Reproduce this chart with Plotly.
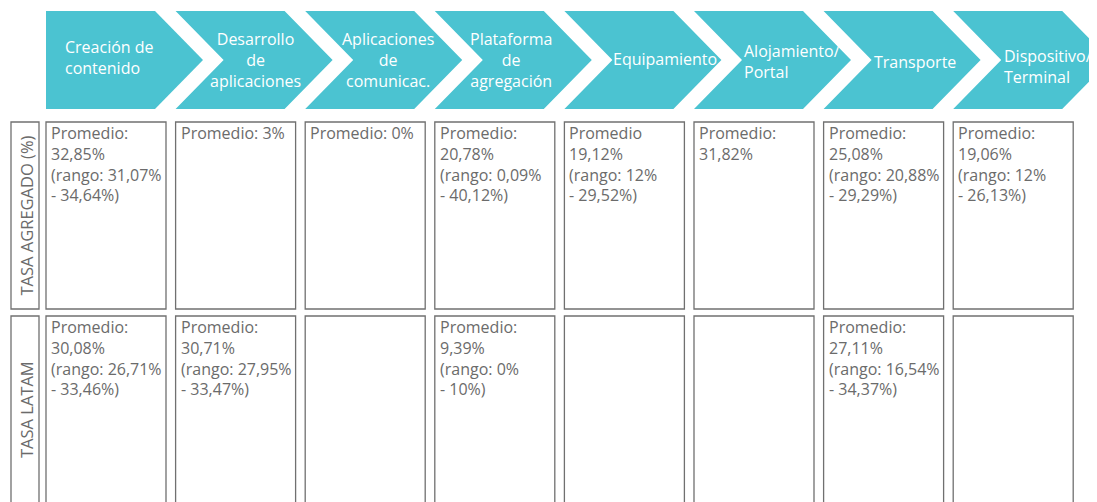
import plotly.graph_objects as go

# ---------------- data ----------------
stages = ["Creación de<br>contenido", "Desarrollo<br>de<br>aplicaciones",
          "Aplicaciones<br>de<br>comunicac.", "Plataforma<br>de<br>agregación",
          "Equipamiento", "Alojamiento/<br>Portal", "Transporte",
          "Dispositivo/<br>Terminal"]
row_labels = ["TASA AGREGADO (%)", "TASA LATAM"]

agg_prefix = ["Promedio:", "Promedio:", "Promedio:", "Promedio:",
              "Promedio", "Promedio:", "Promedio:", "Promedio:"]
agg_avg = [32.85, 3, 0, 20.78, 19.12, 31.82, 25.08, 19.06]
agg_low = [31.07, None, None, 0.09, 12, None, 20.88, 12]
agg_high = [34.64, None, None, 40.12, 29.52, None, 29.29, 26.13]

latam_avg = [30.08, 30.71, None, 9.39, None, None, 27.11, None]
latam_low = [26.71, 27.95, None, 0, None, None, 16.54, None]
latam_high = [33.46, 33.47, None, 10, None, None, 34.37, None]

# ---------------- style / layout ----------------
W, H = 1097, 502
PAGE_OFF = 8  # default page margin of the html body
TEAL = "#4BC3D1"
GRAY = "#6b6b6b"
BORDER = "#707070"
FONT = "Open Sans"

X0, STEP = 46, 129.6
BODY, TIP = 109, 48
CH_TOP, CH_BOT = 11, 109
BOX_W = 120
ROWS = [(122, 309), (316, 506)]
LBL_X = (11, 39)

# chevron label placement: (x, y, xanchor)
label_pos = [(63, 57, "left"), (255, 60, "center"), (388, 60, "center"),
             (511, 60, "center"), (665, 59, "center"), (742, 61, "left"),
             (915, 62, "center"), (1002, 66, "left")]


def pct(v):
    return f"{v:g}".replace(".", ",") + "%"


def cell_text(prefix, avg, low, high):
    if avg is None:
        return None
    if low is None:
        if float(avg).is_integer():
            return f"{prefix} {pct(avg)}"
        return f"{prefix}<br>{pct(avg)}"
    return f"{prefix}<br>{pct(avg)}<br>(rango: {pct(low)}<br>- {pct(high)})"


fig = go.Figure()
fig.add_trace(go.Scatter(x=[PAGE_OFF, W], y=[PAGE_OFF, H], mode="markers",
                         marker=dict(opacity=0), hoverinfo="skip",
                         showlegend=False))

shapes = []
annotations = []
mid = (CH_TOP + CH_BOT) / 2
for i, name in enumerate(stages):
    x0 = X0 + i * STEP
    if i == 0:
        path = (f"M {x0},{CH_TOP} L {x0+BODY},{CH_TOP} L {x0+BODY+TIP},{mid} "
                f"L {x0+BODY},{CH_BOT} L {x0},{CH_BOT} Z")
    else:
        path = (f"M {x0},{CH_TOP} L {x0+BODY},{CH_TOP} L {x0+BODY+TIP},{mid} "
                f"L {x0+BODY},{CH_BOT} L {x0},{CH_BOT} L {x0+TIP},{mid} Z")
    shapes.append(dict(type="path", path=path, xref="x", yref="y",
                       fillcolor=TEAL, line=dict(width=0), layer="below"))
    lx, ly, anc = label_pos[i]
    annotations.append(dict(x=lx, y=ly, xref="x", yref="y", text=name,
                            showarrow=False, xanchor=anc, yanchor="middle",
                            align=anc,
                            font=dict(family=FONT, size=16, color="white")))

    texts = [cell_text(agg_prefix[i], agg_avg[i], agg_low[i], agg_high[i]),
             cell_text("Promedio:", latam_avg[i], latam_low[i], latam_high[i])]
    for r, (y0, y1) in enumerate(ROWS):
        shapes.append(dict(type="rect", x0=x0, x1=x0 + BOX_W, y0=y0, y1=y1,
                           xref="x", yref="y",
                           line=dict(color=BORDER, width=1.3)))
        if texts[r]:
            annotations.append(dict(x=x0 + 3, y=y0 - 2, xref="x", yref="y",
                                    text=texts[r], showarrow=False,
                                    xanchor="left", yanchor="top", align="left",
                                    font=dict(family=FONT, size=16, color=GRAY)))

for r, (y0, y1) in enumerate(ROWS):
    shapes.append(dict(type="rect", x0=LBL_X[0], x1=LBL_X[1], y0=y0, y1=y1,
                       xref="x", yref="y", line=dict(color=BORDER, width=1.3)))
    yc = (y0 + min(y1, 504)) / 2
    annotations.append(dict(x=(LBL_X[0] + LBL_X[1]) / 2 + 1, y=yc, xref="x", yref="y",
                            text=row_labels[r], showarrow=False, textangle=-90,
                            xanchor="center", yanchor="middle",
                            font=dict(family=FONT, size=16.5, color=GRAY)))

fig.update_layout(
    width=W - PAGE_OFF, height=H - PAGE_OFF, margin=dict(l=0, r=0, t=0, b=0),
    paper_bgcolor="white", plot_bgcolor="white",
    xaxis=dict(range=[PAGE_OFF, W], visible=False, fixedrange=True),
    yaxis=dict(range=[H, PAGE_OFF], visible=False, fixedrange=True),
    shapes=shapes, annotations=annotations, showlegend=False,
)
fig.write_html("out.html")
